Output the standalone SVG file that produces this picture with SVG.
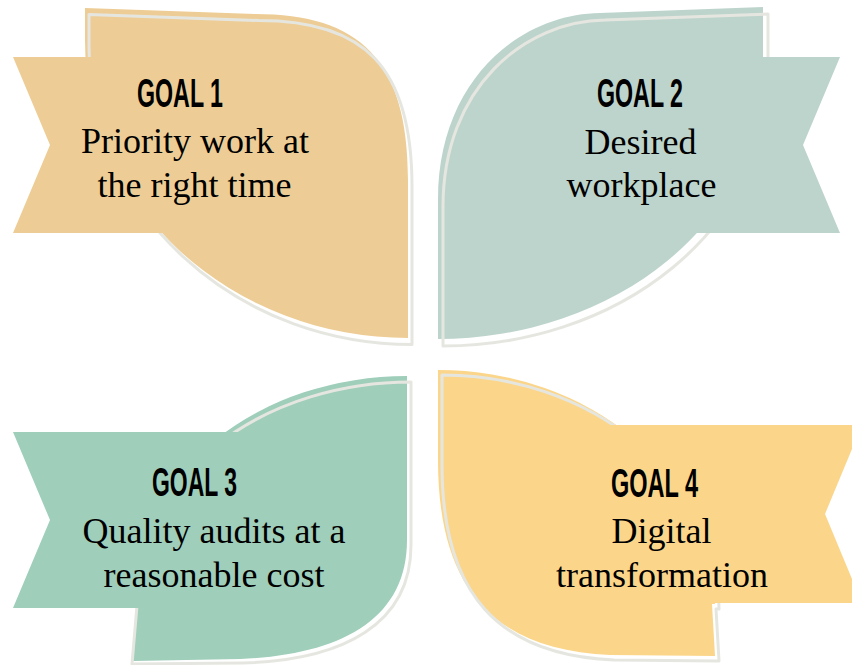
<svg xmlns="http://www.w3.org/2000/svg" width="852" height="665" viewBox="0 0 852 665">
<style>
.rim{fill:none;stroke:#E6E6E1;stroke-width:3;stroke-linejoin:round}
.goal{font-family:"Liberation Sans","DejaVu Sans",sans-serif;font-weight:bold;font-size:41px;fill:#000}
.body{font-family:"Liberation Serif","DejaVu Serif",serif;font-size:36px;fill:#000;text-anchor:middle}
.c1{fill:#EDCD95}
.c2{fill:#BDD4CC}
.c3{fill:#9FCEBA}
.c4{fill:#FBD68A}
</style>
<rect width="852" height="665" fill="#FFFFFF"/>
<g id="goal1">
  <path class="c1" d="M85,8 L255,14 C360,14 408,60 408,180 L408,338 A323,298 0 0 1 85,40 Z"/>
  <path class="rim" transform="translate(4,6.5)" d="M85,8 L255,14 C360,14 408,60 408,180 L408,338 A323,298 0 0 1 85,40 Z"/>
  <polygon class="c1" points="13,57 270,57 270,233 13,233 50,145"/>
  <text class="goal" x="137" y="107" textLength="86" lengthAdjust="spacingAndGlyphs">GOAL 1</text>
  <text class="body" x="195" y="153">Priority work at</text>
  <text class="body" x="194.5" y="197">the right time</text>
</g>
<g id="goal2">
  <path class="c2" d="M763,7 L600,13 C520,14 438,80 438,200 L438,339 A325,268 0 0 0 763,71 Z"/>
  <path class="rim" transform="translate(5,7)" d="M763,7 L600,13 C520,14 438,80 438,200 L438,339 A325,268 0 0 0 763,71 Z"/>
  <polygon class="c2" points="840,57 803,145 840,233 600,233 600,57"/>
  <text class="goal" x="597" y="107" textLength="86" lengthAdjust="spacingAndGlyphs">GOAL 2</text>
  <text class="body" x="640.5" y="154">Desired</text>
  <text class="body" x="641.5" y="197">workplace</text>
</g>
<g id="goal3">
  <path class="c3" d="M407,376 L407,540 C407,620 340,655 240,659 L133,661 L137,591 A270,216 0 0 1 407,376 Z"/>
  <path class="rim" d="M138,594 A273,212 0 0 1 411,382 L411,545 C411,624 344,660 243,663 L132,664 Z"/>
  <polygon class="c3" points="13,432 300,432 300,608 13,608 50,520"/>
  <text class="goal" x="152" y="496" textLength="85" lengthAdjust="spacingAndGlyphs">GOAL 3</text>
  <text class="body" x="214" y="543">Quality audits at a</text>
  <text class="body" x="214" y="587">reasonable cost</text>
</g>
<g id="goal4">
  <path class="c4" d="M438,370 A277,234 0 0 1 715,604 L712,604 L715,656 L610,655 C495,650 438,590 438,460 Z"/>
  <path class="rim" transform="translate(4,5)" d="M438,370 A277,234 0 0 1 715,604 L712,604 L715,656 L610,655 C495,650 438,590 438,460 Z"/>
  <polygon class="c4" points="862,425 825,514 862,603 560,603 560,425"/>
  <text class="goal" x="611" y="497" textLength="87" lengthAdjust="spacingAndGlyphs">GOAL 4</text>
  <text class="body" x="661.5" y="543">Digital</text>
  <text class="body" x="662" y="587">transformation</text>
</g>
</svg>
